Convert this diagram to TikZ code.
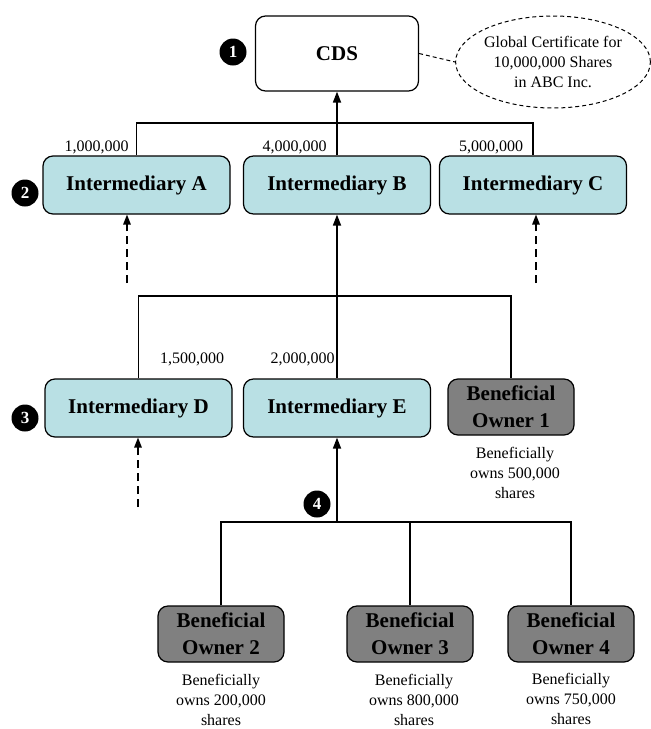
\documentclass[tikz,border=0pt]{standalone}
\usepackage{fontspec}
\setmainfont{Liberation Serif}
\usetikzlibrary{shapes.geometric,arrows.meta}
\definecolor{interblue}{HTML}{B9E0E4}
\definecolor{ownergray}{HTML}{808080}
\begin{document}
\begin{tikzpicture}[x=1pt,y=-1pt,line width=1.2pt,
box/.style={draw,rounded corners=10pt,font=\fontsize{21}{27}\selectfont\bfseries,align=center,inner sep=0pt},
inter/.style={box,fill=interblue,minimum width=187pt,minimum height=58pt},
owner/.style={box,fill=ownergray,minimum width=126pt,minimum height=56pt},
num/.style={circle,fill=black,text=white,inner sep=0pt,minimum size=27pt,font=\fontsize{17}{17}\selectfont\bfseries},
lbl/.style={font=\fontsize{16}{20}\selectfont,align=center,inner sep=0pt},
up/.style={-{Triangle[length=11pt,width=8pt]},line width=1.7pt},
dashup/.style={-{Triangle[length=10pt,width=7.5pt]},line width=1.4pt,dash pattern=on 8pt off 5pt}]
\useasboundingbox(0,0)rectangle(651,729);
%top
\node[box,minimum width=163pt,minimum height=75pt](cds)at(337,53.5){CDS};
\node[draw,ellipse,line width=1pt,dash pattern=on 4pt off 3pt,minimum width=194pt,minimum height=92pt,lbl](note)at(553,62){Global Certificate for\\10,000,000 Shares\\in ABC Inc.};
\draw[line width=1pt,dash pattern=on 4pt off 3pt](cds.east)--(note.west);
\node[num](n1)at(233,52){1};
%intermediaries
\node[inter](ia)at(136.5,185){Intermediary A};
\node[inter](ib)at(337,185){Intermediary B};
\node[inter](ic)at(533,185){Intermediary C};
\node[num](n2)at(25,193){2};
\node[inter](id)at(138.5,408){Intermediary D};
\node[inter](ie)at(337,408){Intermediary E};
\node[owner](bo1)at(511,407){Beneficial\\Owner 1};
\node[num](n3)at(25,418){3};
%owners
\node[owner](bo2)at(221,634){Beneficial\\Owner 2};
\node[owner](bo3)at(410,634){Beneficial\\Owner 3};
\node[owner](bo4)at(571,634){Beneficial\\Owner 4};
\node[num](n4)at(317,504){4};
%amounts
\node[lbl](l1)at(96.5,147){1,000,000};
\node[lbl](l2)at(294.5,147){4,000,000};
\node[lbl](l3)at(491,147){5,000,000};
\node[lbl](l4)at(192,359){1,500,000};
\node[lbl](l5)at(302.5,359){2,000,000};
\node[lbl](cap1)at(515,473){Beneficially\\owns 500,000\\shares};
\node[lbl](cap2)at(221,700){Beneficially\\owns 200,000\\shares};
\node[lbl](cap3)at(414,700){Beneficially\\owns 800,000\\shares};
\node[lbl](cap4)at(571,699){Beneficially\\owns 750,000\\shares};
%buses
\coordinate(t1)at(337,123);
\coordinate(t2)at(337,296);
\coordinate(t3)at(337,522);
\draw(ia.north)|-(ic.north|-t1)--(ic.north);
\draw[up](ib.north)--(cds.south);
\draw(id.north)|-(bo1.north|-t2)--(bo1.north);
\draw[up](ie.north)--(ib.south);
\draw(bo2.north)|-(bo4.north|-t3)--(bo4.north);
\draw(bo3.north)--(bo3.north|-t3);
\draw[up](t3)--(ie.south);
%other holders
\coordinate(da)at(127,283);
\coordinate(dc)at(536,283);
\coordinate(dd)at(138,507);
\draw[dashup](da)--(da|-ia.south);
\draw[dashup](dc)--(dc|-ic.south);
\draw[dashup](dd)--(dd|-id.south);
\end{tikzpicture}
\end{document}
